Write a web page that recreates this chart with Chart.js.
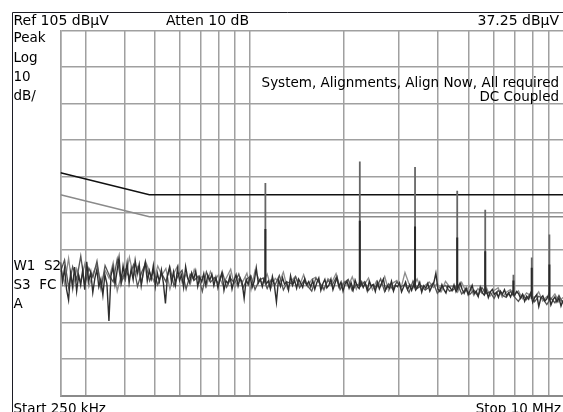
<!DOCTYPE html>
<html>
<head>
<meta charset="utf-8">
<script src="https://cdn.jsdelivr.net/npm/chart.js@4.4.1/dist/chart.umd.min.js"></script>
<style>
  body { margin: 0; background: #fff; }
  canvas { display: block; }
</style>
</head>
<body>
<canvas id="myChart" width="563" height="412"></canvas>
<script>
// sweep: 250 kHz .. 10 MHz, log, 10 dB/div from 105 dBuV
const startFreq = 250000;
const stopFreq = 10000000;
const refLevel = 105;
const bottomLevel = 5;

const freqTicks = [250000, 300000, 400000, 500000, 600000, 700000, 800000, 900000,
    1000000, 2000000, 3000000, 4000000, 5000000, 6000000, 7000000, 8000000, 9000000];
const levelTicks = [5, 15, 25, 35, 45, 55, 65, 75, 85, 95, 105];

// trace 1 (dark), dBuV
const noiseDark = [
    41.5, 36.2, 39.8, 34.1, 31.2, 38.5, 35.0, 40.2, 33.6, 37.9, 35.2, 39.4, 34.0, 41.6, 36.3, 38.8, 33.2, 37.0, 39.5, 34.8, 36.9, 32.5, 38.1, 35.6, 25.4,
    37.8, 40.2, 35.4, 39.0, 42.8, 36.1, 40.5, 37.2, 41.3, 35.8, 39.6, 36.7, 42.0, 38.3, 40.9, 35.1, 38.7, 41.5, 36.4, 39.2, 37.0, 40.6, 34.9, 38.5, 36.2,
    39.4, 35.7, 30.2, 37.8, 40.1, 36.0, 38.9, 35.3, 39.7, 36.5, 38.1, 34.6, 40.3, 37.2, 35.9, 38.6, 36.8, 39.1, 34.9, 37.5, 36.1, 38.4, 35.2, 37.9, 36.6,
    38.2, 35.1, 37.4, 34.5, 36.9, 38.7, 33.8, 36.4, 35.7, 37.8, 34.2, 36.6, 38.1, 35.0, 37.2, 36.0, 31.6, 36.8, 35.4, 37.5, 34.7, 36.3, 40.0, 35.8, 36.9,
    34.8, 37.1, 35.6, 36.4, 34.2, 37.6, 35.1, 30.6, 36.7, 34.9, 37.3, 35.5, 36.1, 33.9, 37.8, 35.2, 36.6, 34.4, 36.9, 35.8, 34.6, 37.0, 35.3, 36.2, 34.7,
    36.5, 34.1, 35.9, 37.2, 33.8, 35.6, 36.8, 34.5, 35.2, 36.9, 34.0, 35.7, 37.4, 34.8, 36.1, 33.6, 35.5, 36.3, 34.4, 35.9, 33.9, 36.6, 35.0, 34.3, 36.0,
    34.6, 35.8, 33.7, 36.2, 34.9, 35.4, 33.5, 36.0, 34.2, 35.6, 36.9, 33.9, 35.1, 34.4, 36.3, 33.6, 35.2, 34.8, 35.9, 33.4, 34.7, 36.1, 34.0, 35.3, 33.8,
    35.5, 33.9, 34.8, 36.0, 33.3, 35.1, 34.4, 35.7, 33.6, 34.9, 35.9, 38.5, 34.2, 33.5, 35.4, 34.0, 33.1, 35.0, 34.6, 33.7, 35.3, 33.4, 34.5, 35.8, 34.1,
    33.0, 34.4, 32.6, 33.8, 35.2, 32.9, 33.6, 32.1, 34.7, 33.2, 32.5, 33.9, 31.8, 33.4, 34.1, 32.7, 33.3, 31.9, 33.6, 32.8, 34.0, 32.3, 33.1, 32.0, 33.5,
    32.4, 33.5, 32.9, 31.6, 32.7, 30.8, 32.2, 31.4, 33.0, 30.5, 31.9, 32.6, 29.4, 31.7, 32.3, 30.9, 31.5, 32.8, 29.8, 31.2, 32.0, 30.6, 31.8, 29.5, 31.1
];

// trace 2 (grey), dBuV
const noiseGrey = [
    40.8, 35.5, 42.6, 33.9, 39.7, 36.2, 41.1, 34.8, 38.4, 40.9, 35.0, 39.3, 37.1, 41.4, 33.6, 38.0, 36.5, 42.9, 37.7, 40.2, 35.8, 41.7, 38.9, 36.3, 40.5,
    37.9, 39.8, 34.2, 38.6, 40.7, 36.0, 38.3, 35.4, 39.5, 36.9, 37.6, 34.8, 39.0, 36.4, 38.1, 35.3, 37.4, 39.6, 34.6, 37.0, 36.2, 38.5, 33.9, 39.2, 36.7,
    35.9, 38.3, 34.7, 37.1, 36.0, 38.8, 34.3, 36.5, 37.7, 35.2, 38.1, 34.9, 36.8, 37.4, 35.5, 33.8, 37.0, 36.1, 38.4, 34.6, 36.3, 35.0, 37.5, 34.1, 36.6,
    35.4, 37.2, 34.0, 36.4, 35.1, 37.6, 33.7, 35.8, 36.5, 34.3, 38.7, 35.6, 34.5, 36.9, 33.9, 35.2, 36.1, 34.6, 35.7, 33.5, 36.3, 34.8, 35.0, 33.3, 36.0,
    33.6, 35.1, 32.4, 34.3, 33.0, 34.9, 32.2, 33.8, 34.5, 31.9, 33.3, 34.0, 32.6, 33.7, 31.5, 33.1, 32.4, 31.8, 33.4, 30.9, 32.1, 31.4, 32.8, 30.6, 31.9
];

// trace 3, dBuV
const noiseThird = [
    38.9, 42.1, 34.6, 40.3, 36.8, 43.2, 35.1, 39.9, 37.4, 41.8, 34.2, 40.6, 38.0, 36.1, 42.4, 35.7, 39.5, 37.3, 40.8, 34.9, 38.7, 41.2, 36.4, 39.1, 35.3,
    38.4, 36.2, 40.1, 35.0, 37.9, 39.3, 34.1, 38.2, 36.6, 37.7, 33.5, 38.9, 36.0, 37.3, 35.5, 38.6, 34.7, 37.0, 35.8, 38.3, 34.4, 36.9, 37.8, 34.0, 36.5,
    37.2, 34.3, 36.7, 35.4, 37.9, 33.9, 36.1, 35.6, 37.5, 34.5, 36.4, 35.0, 33.6, 37.1, 35.8, 34.2, 36.6, 35.1, 37.3, 34.0, 35.9, 36.8, 33.7, 35.5, 34.9,
    36.2, 33.8, 35.3, 34.6, 37.0, 33.4, 35.6, 34.1, 36.1, 34.8, 35.4, 33.2, 36.4, 34.3, 35.1, 33.9, 34.7, 35.9, 33.0, 34.5, 35.2, 33.6, 34.0, 35.5, 32.8,
    34.2, 32.7, 33.9, 32.3, 34.6, 32.9, 33.4, 31.6, 33.8, 32.5, 31.9, 33.5, 32.0, 30.8, 32.7, 31.3, 33.1, 30.7, 32.2, 31.6, 29.9, 31.7, 30.4, 32.4, 30.2
];

// harmonics
const peakFreqs = [1125000, 2250000, 3375000, 4600000, 5650000, 6950000, 7950000, 9050000];
const peakBase = [36.0, 35.0, 34.5, 34.0, 33.0, 32.5, 31.5, 31.0];
const peakTop1 = [63.2, 69.1, 67.6, 61.1, 55.9, 38.1, 42.8, 49.1];
const peakTop2 = [50.6, 52.9, 51.3, 48.3, 44.5, 36.5, 40.0, 40.9];

// limit lines
const limitFreqs = [250000, 480000, 10000000];
const limitUpper = [66, 60, 60];
const limitLower = [60, 54, 54];

function sweep(values) {
    return values.map((v, i) => ({
        x: startFreq * Math.pow(stopFreq / startFreq, i / (values.length - 1)),
        y: v
    }));
}

function spikes(tops) {
    const pts = [];
    peakFreqs.forEach((f, i) => {
        pts.push({x: f, y: peakBase[i]});
        pts.push({x: f, y: tops[i]});
        pts.push({x: f, y: null});
    });
    return pts;
}

function pairs(xs, ys) {
    return xs.map((x, i) => ({x: x, y: ys[i]}));
}

const lineDefaults = {
    type: 'line',
    pointRadius: 0,
    tension: 0,
    fill: false,
    spanGaps: false
};

const frame = {
    id: 'frame',
    afterDraw(chart) {
        const c = chart.ctx;
        c.save();
        c.strokeStyle = '#1c1c24';
        c.lineWidth = 1;
        c.beginPath();
        c.moveTo(12.5, 412);
        c.lineTo(12.5, 12.5);
        c.lineTo(563, 12.5);
        c.stroke();

        c.fillStyle = '#000';
        c.font = '14px "DejaVu Sans"';
        c.textBaseline = 'alphabetic';
        c.textAlign = 'left';
        c.fillText('Ref 105 dBµV', 13.5, 25);
        c.fillText('Atten 10 dB', 166, 25);
        c.textAlign = 'right';
        c.fillText('37.25 dBµV', 559, 25);

        c.font = '13.5px "DejaVu Sans"';
        c.textAlign = 'left';
        c.fillText('Peak', 13.5, 42);
        c.fillText('Log', 13.5, 61.5);
        c.fillText('10', 13.5, 81);
        c.fillText('dB/', 13.5, 100);
        c.fillText('W1  S2', 13.5, 270);
        c.fillText('S3  FC', 13.5, 288.5);
        c.fillText('A', 13.5, 308);
        c.fillText('Start 250 kHz', 13.5, 412.5);

        c.textAlign = 'right';
        c.fillText('System, Alignments, Align Now, All required', 559, 87);
        c.fillText('DC Coupled', 559, 101);
        c.fillText('Stop 10 MHz', 561, 412.5);
        c.restore();
    }
};

const config = {
    type: 'line',
    data: {
        datasets: [
            Object.assign({}, lineDefaults, {
                label: 'Peaks 2',
                data: spikes(peakTop2),
                borderColor: '#2a2a2a',
                borderWidth: 2
            }),
            Object.assign({}, lineDefaults, {
                label: 'Peaks 1',
                data: spikes(peakTop1),
                borderColor: '#666666',
                borderWidth: 1.8
            }),
            Object.assign({}, lineDefaults, {
                label: 'Trace 1',
                data: sweep(noiseDark),
                borderColor: '#2e2e2e',
                borderWidth: 1.4
            }),
            Object.assign({}, lineDefaults, {
                label: 'Trace 3',
                data: sweep(noiseThird),
                borderColor: '#555555',
                borderWidth: 1.3
            }),
            Object.assign({}, lineDefaults, {
                label: 'Trace 2',
                data: sweep(noiseGrey),
                borderColor: '#8c8c8c',
                borderWidth: 1.3
            }),
            Object.assign({}, lineDefaults, {
                label: 'Limit',
                data: pairs(limitFreqs, limitUpper),
                borderColor: '#111111',
                borderWidth: 1.5
            }),
            Object.assign({}, lineDefaults, {
                label: 'Limit 2',
                data: pairs(limitFreqs, limitLower),
                borderColor: '#8a8a8a',
                borderWidth: 1.5
            })
        ]
    },
    options: {
        responsive: false,
        animation: false,
        devicePixelRatio: 1,
        layout: { padding: { left: 60.5, top: 30.5, right: 0, bottom: 16.5 } },
        plugins: { legend: { display: false }, tooltip: { enabled: false } },
        scales: {
            x: {
                type: 'logarithmic',
                min: startFreq,
                max: stopFreq,
                afterBuildTicks: (scale) => { scale.ticks = freqTicks.map(v => ({value: v})); },
                ticks: { display: false },
                grid: { color: '#a0a0a0', lineWidth: 1.5, drawTicks: false },
                border: { display: true, color: '#8a8a8a', width: 2 }
            },
            y: {
                type: 'linear',
                min: bottomLevel,
                max: refLevel,
                afterBuildTicks: (scale) => { scale.ticks = levelTicks.map(v => ({value: v})); },
                ticks: { display: false },
                grid: { color: '#a0a0a0', lineWidth: 1.5, drawTicks: false },
                border: { display: true, color: '#a0a0a0', width: 1.5 }
            }
        }
    },
    plugins: [frame]
};

const ctx = document.querySelector('#myChart').getContext('2d');
new Chart(ctx, config);
</script>
</body>
</html>
